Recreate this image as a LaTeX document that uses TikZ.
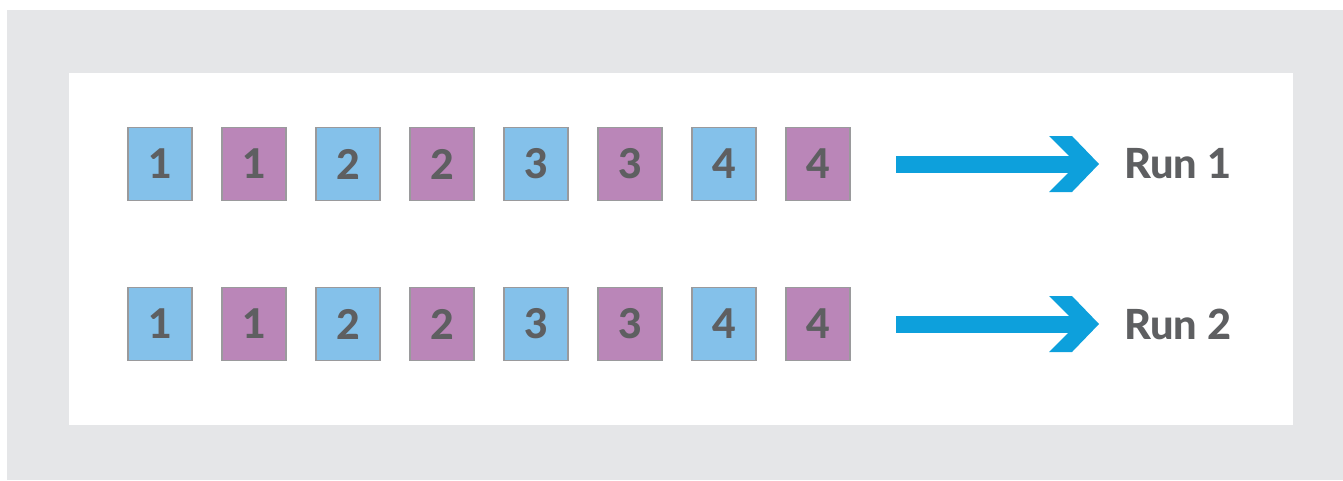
\documentclass[tikz,border=0pt]{standalone}
\usepackage{fontspec}
\IfFontExistsTF{Lato Heavy}{\setmainfont{Lato}[BoldFont={Lato Heavy}]}{\setmainfont{Lato}[BoldFeatures={FakeBold=1.2}]}
\definecolor{bggray}{HTML}{E5E6E8}
\definecolor{cblue}{HTML}{84C1EA}
\definecolor{cpurple}{HTML}{BA86B8}
\definecolor{cedge}{HTML}{9A9A9C}
\definecolor{ctext}{HTML}{5E5F61}
\definecolor{carrow}{HTML}{0DA0DC}
\tikzset{
  cell/.style={draw=cedge, line width=1.3pt, minimum width=64pt, minimum height=73pt,
    inner sep=0pt, font=\fontsize{41}{41}\selectfont\bfseries, text=ctext},
  bcell/.style={cell, fill=cblue},
  pcell/.style={cell, fill=cpurple},
  runlabel/.style={anchor=west, inner sep=0pt, font=\fontsize{41.5}{41.5}\selectfont\bfseries, text=ctext}
}
\begin{document}
\begin{tikzpicture}[x=1pt,y=-1pt]
\useasboundingbox (0,0) rectangle (1343,480);
\fill[bggray] (7,10) rectangle (1343,480);
\fill[white] (69,73) rectangle (1293,425);
\foreach \r/\yy in {1/164, 2/324} {
  \foreach \n in {1,...,4} {
    \node[bcell] (b\r\n) at ({160+(\n-1)*188}, \yy) {\n};
    \node[pcell] (p\r\n) at ({254+(\n-1)*188}, \yy) {\n};
  }
  \coordinate (s\r) at (896, \yy);
  \fill[carrow] (896,\yy-8.5) rectangle (1078,\yy+8.5);
  \fill[carrow] (1049,\yy-28) -- (1072,\yy-28) -- (1099,\yy) -- (1072,\yy+28) -- (1049,\yy+28) -- (1077,\yy) -- cycle;
  \coordinate (t\r) at (1099,\yy);
  \node[runlabel] (r\r) at (1124,\yy) {Run \r};
}
\end{tikzpicture}
\end{document}
